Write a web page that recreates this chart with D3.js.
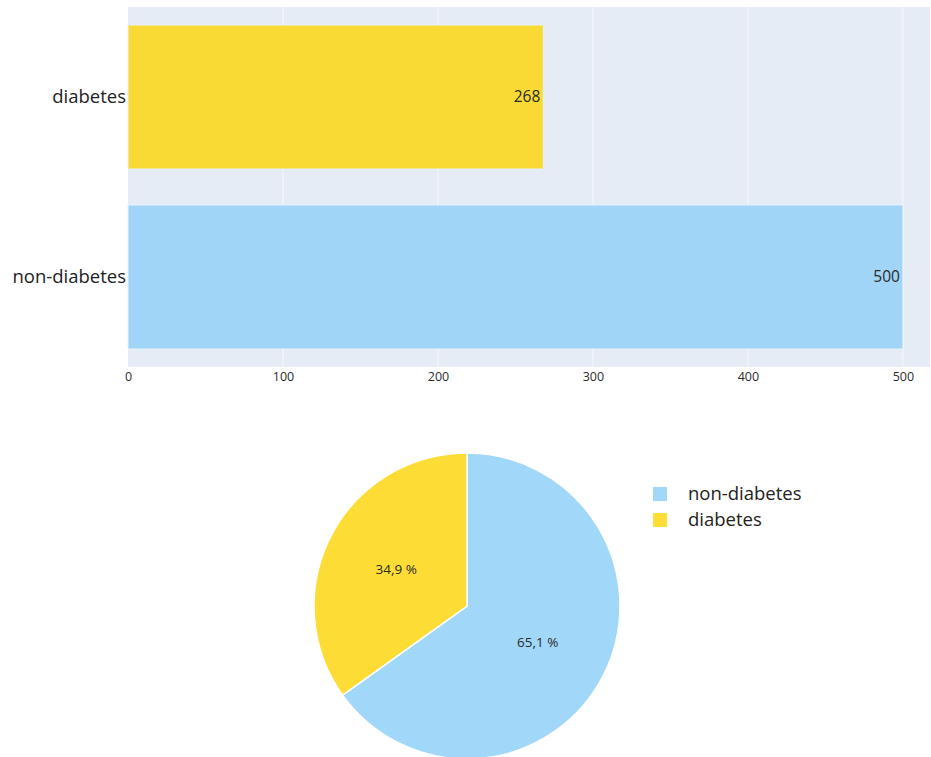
<!DOCTYPE html>
<html>
<head>
<meta charset="utf-8">
<script src="https://cdn.jsdelivr.net/npm/d3@7"></script>
<style>
  body { margin: 0; background: #fff; }
  text { font-family: "Open Sans", "Noto Sans", sans-serif; }
</style>
</head>
<body>
<svg id="chart" width="931" height="757"></svg>
<script>
// data
var categories = ["non-diabetes", "diabetes"];
var counts = [500, 268];
var xTicks = [0, 100, 200, 300, 400, 500];
var barColors = ["#9dd4f8", "#f9d92e"];
var pieColors = ["#a1d7f9", "#fddd35"];

var svg = d3.select("#chart");

// ---- bar chart ----
var plot = {left: 128, top: 7, width: 802, height: 360};

var x = d3.scaleLinear()
    .domain([0, 517.5])
    .range([0, plot.width]);

var y = d3.scaleBand()
    .domain(["diabetes", "non-diabetes"])   // diabetes on top
    .range([0, plot.height])
    .paddingInner(0.2)
    .paddingOuter(0.1);

var g = svg.append("g")
    .attr("transform", "translate(" + plot.left + "," + plot.top + ")");

g.append("rect")
    .attr("width", plot.width)
    .attr("height", plot.height)
    .attr("fill", "#e5ecf6");

// gridlines
g.selectAll("line.grid")
  .data(xTicks.slice(1))
  .enter()
  .append("line")
    .attr("class", "grid")
    .attr("x1", function(d) { return x(d); })
    .attr("x2", function(d) { return x(d); })
    .attr("y1", 0)
    .attr("y2", plot.height)
    .attr("stroke", "#f4f7fb")
    .attr("stroke-width", 1.2);

var bars = categories.map(function(c, i) { return {cat: c, val: counts[i], color: barColors[i]}; });

g.selectAll("rect.bar")
  .data(bars)
  .enter()
  .append("rect")
    .attr("class", "bar")
    .attr("x", 0)
    .attr("y", function(d) { return y(d.cat); })
    .attr("width", function(d) { return x(d.val); })
    .attr("height", y.bandwidth())
    .attr("fill", function(d) { return d.color; })
    .attr("fill-opacity", 0.97)
    .attr("stroke", "#e8f1fb")
    .attr("stroke-width", 1);

// value labels inside the bar end
g.selectAll("text.val")
  .data(bars)
  .enter()
  .append("text")
    .attr("class", "val")
    .attr("x", function(d) { return x(d.val) - 3; })
    .attr("y", function(d) { return y(d.cat) + y.bandwidth() / 2; })
    .attr("dy", "0.35em")
    .attr("text-anchor", "end")
    .style("font-size", "15.5px")
    .attr("fill", "#2a2a2a")
    .text(function(d) { return d.val; });

// x axis
var xAxis = g.append("g")
    .attr("transform", "translate(0," + plot.height + ")")
    .call(d3.axisBottom(x).tickValues(xTicks).tickSize(0).tickPadding(5));
xAxis.select(".domain").remove();
xAxis.selectAll("text")
    .style("font-size", "12.5px")
    .attr("fill", "#2a2a2a")
    .style("font-family", "'Open Sans', sans-serif");

// y axis
var yAxis = g.append("g")
    .call(d3.axisLeft(y).tickSize(0).tickPadding(2));
yAxis.select(".domain").remove();
yAxis.selectAll("text")
    .style("font-size", "18.5px")
    .attr("fill", "#222")
    .style("font-family", "'Open Sans', sans-serif");

// ---- pie chart ----
var cx = 467, cy = 606, radius = 153;
var total = d3.sum(counts);

var pie = d3.pie().sort(null).value(function(d) { return d; });
var arc = d3.arc().innerRadius(0).outerRadius(radius);
var labelArc = d3.arc().innerRadius(radius * 0.52).outerRadius(radius * 0.52);

var pg = svg.append("g")
    .attr("transform", "translate(" + cx + "," + cy + ")");

var slices = pie(counts);

pg.selectAll("path")
  .data(slices)
  .enter()
  .append("path")
    .attr("d", arc)
    .attr("fill", function(d, i) { return pieColors[i]; })
    .attr("stroke", "#fff")
    .attr("stroke-width", 1.5);

pg.selectAll("text")
  .data(slices)
  .enter()
  .append("text")
    .attr("transform", function(d) { return "translate(" + labelArc.centroid(d) + ")"; })
    .attr("dy", "0.35em")
    .attr("text-anchor", "middle")
    .style("font-size", "13.5px")
    .attr("fill", "#2a2a2a")
    .text(function(d) { return d3.format(".1f")(d.value / total * 100).replace(".", ",") + " %"; });

// legend
var legend = svg.append("g")
    .attr("transform", "translate(653,487)");

var items = legend.selectAll("g")
  .data(categories)
  .enter()
  .append("g")
    .attr("transform", function(d, i) { return "translate(0," + (i * 26) + ")"; });

items.append("rect")
    .attr("width", 14)
    .attr("height", 14)
    .attr("fill", function(d, i) { return pieColors[i]; });

items.append("text")
    .attr("x", 35)
    .attr("y", 7)
    .attr("dy", "0.35em")
    .style("font-size", "18.5px")
    .attr("fill", "#222")
    .text(function(d) { return d; });
</script>
</body>
</html>
